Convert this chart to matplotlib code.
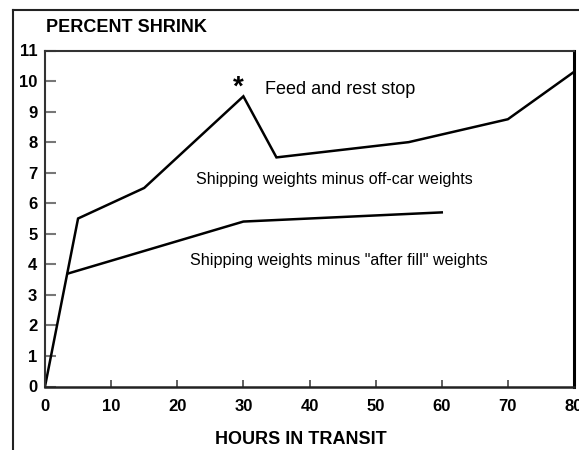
import matplotlib
matplotlib.use("Agg")
import matplotlib.pyplot as plt
from matplotlib.lines import Line2D

plt.rcParams['font.family'] = ['Liberation Sans', 'DejaVu Sans']

# Data
hours_offcar = [0, 5, 15, 30, 35, 55, 70, 80]
shrink_offcar = [0, 5.5, 6.5, 9.5, 7.5, 8.0, 8.75, 10.3]
hours_fill = [3.5, 30, 60]
shrink_fill = [3.7, 5.4, 5.7]
x_ticks = [0, 10, 20, 30, 40, 50, 60, 70, 80]
y_ticks = list(range(0, 12))

fig = plt.figure(figsize=(5.79, 4.5), dpi=100)
ax = fig.add_axes([45/579, 1-386.5/450, (574-45)/579, (386.5-50.5)/450])

ax.plot(hours_offcar, shrink_offcar, color='black', lw=1.8, solid_joinstyle='miter')
ax.plot(hours_fill, shrink_fill, color='black', lw=1.8)

ax.set_xlim(0, 80)
ax.set_ylim(0, 11)
ax.set_xticks(x_ticks)
ax.set_yticks(y_ticks)
ax.tick_params(axis='x', direction='in', length=5, width=1.2, color='#444444', pad=9, labelsize=12)
ax.tick_params(axis='y', direction='in', length=8, width=1.5, color='#777777', pad=5.5, labelsize=12)
for lab in ax.get_xticklabels() + ax.get_yticklabels():
    lab.set_fontweight('bold')

for s in ['left', 'top']:
    ax.spines[s].set_color('#333333')
    ax.spines[s].set_linewidth(1.5)
ax.spines['bottom'].set_color('#222222')
ax.spines['bottom'].set_linewidth(1.8)
ax.spines['right'].set_color('black')
ax.spines['right'].set_linewidth(2.2)

ax.text(43.8, 6.78, 'Shipping weights minus off-car weights', ha='center', va='center', fontsize=11.5)
ax.text(21.9, 4.13, 'Shipping weights minus "after fill" weights', ha='left', va='center', fontsize=11.6)
ax.text(33.2, 9.72, 'Feed and rest stop', ha='left', va='center', fontsize=13)
ax.text(29.3, 9.55, '*', ha='center', va='baseline', fontsize=20, fontweight='bold')

fig.text(46/579, 1-27/450, 'PERCENT SHRINK', ha='left', va='center', fontsize=13, fontweight='bold')
fig.text(301/579, 1-440/450, 'HOURS IN TRANSIT', ha='center', va='center', fontsize=13, fontweight='bold')

# outer frame (left and top)
fig.add_artist(Line2D([13/579, 13/579], [0, 1-10/450], transform=fig.transFigure, color='#222222', lw=1.5))
fig.add_artist(Line2D([13/579, 1], [1-10/450, 1-10/450], transform=fig.transFigure, color='#222222', lw=1.5))

fig.savefig('out.png', dpi=100)
